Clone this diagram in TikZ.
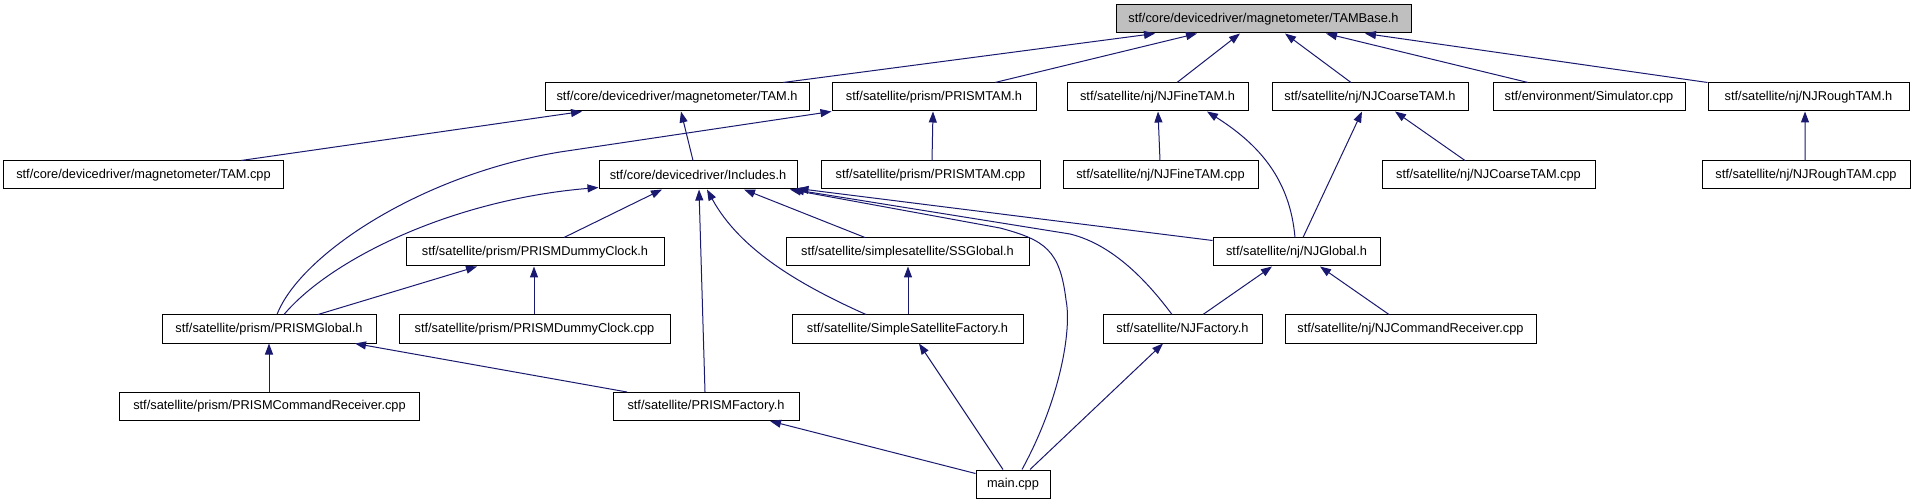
\documentclass[tikz,border=0pt]{standalone}
\usepackage{fontspec}
\setmainfont{Liberation Sans}
\usetikzlibrary{arrows.meta}
\definecolor{edgeblue}{HTML}{191970}
\definecolor{rootgray}{HTML}{BFBFBF}
\begin{document}
\begin{tikzpicture}[x=1bp,y=-1bp,
  box/.style={draw=black, line width=1bp, fill=white, minimum height=28bp, inner sep=0pt,
    font=\fontsize{12.8bp}{14bp}\selectfont, anchor=center},
  edge/.style={draw=edgeblue, line width=1bp, -{Triangle[length=11bp,width=8bp]}}]
\fill[white] (0,0) rectangle (1913,504);
\useasboundingbox (0,0) rectangle (1913,504);
% row 1
\node[box, minimum width=295bp, fill=rootgray] (tamb) at (1263.5,19) {stf/core/devicedriver/magnetometer/TAMBase.h};
% row 2
\node[box, minimum width=264bp] (tamh) at (677,97) {stf/core/devicedriver/magnetometer/TAM.h};
\node[box, minimum width=204bp] (prismtamh) at (934,97) {stf/satellite/prism/PRISMTAM.h};
\node[box, minimum width=181bp] (njfineh) at (1157.5,97) {stf/satellite/nj/NJFineTAM.h};
\node[box, minimum width=196bp] (njcoarseh) at (1370,97) {stf/satellite/nj/NJCoarseTAM.h};
\node[box, minimum width=192bp] (sim) at (1589,97) {stf/environment/Simulator.cpp};
\node[box, minimum width=201bp] (njroughh) at (1808.5,97) {stf/satellite/nj/NJRoughTAM.h};
% row 3
\node[box, minimum width=279bp] (tamcpp) at (143.5,175) {stf/core/devicedriver/magnetometer/TAM.cpp};
\node[box, minimum width=198bp] (inc) at (698,175) {stf/core/devicedriver/Includes.h};
\node[box, minimum width=219bp] (prismtamcpp) at (930.5,175) {stf/satellite/prism/PRISMTAM.cpp};
\node[box, minimum width=195bp] (njfinecpp) at (1160.5,175) {stf/satellite/nj/NJFineTAM.cpp};
\node[box, minimum width=213bp] (njcoarsecpp) at (1488.5,175) {stf/satellite/nj/NJCoarseTAM.cpp};
\node[box, minimum width=208bp] (njroughcpp) at (1806,175) {stf/satellite/nj/NJRoughTAM.cpp};
% row 4
\node[box, minimum width=258bp] (dummyh) at (535,252) {stf/satellite/prism/PRISMDummyClock.h};
\node[box, minimum width=243bp] (ssglobal) at (907.5,252) {stf/satellite/simplesatellite/SSGlobal.h};
\node[box, minimum width=167bp] (njglobal) at (1296.5,252) {stf/satellite/nj/NJGlobal.h};
% row 5
\node[box, minimum width=214bp] (prismglobal) at (269,329) {stf/satellite/prism/PRISMGlobal.h};
\node[box, minimum width=271bp] (dummycpp) at (534.5,329) {stf/satellite/prism/PRISMDummyClock.cpp};
\node[box, minimum width=231bp] (ssfactory) at (907.5,329) {stf/satellite/SimpleSatelliteFactory.h};
\node[box, minimum width=159bp] (njfactory) at (1182.5,329) {stf/satellite/NJFactory.h};
\node[box, minimum width=251bp] (njcmd) at (1410.5,329) {stf/satellite/nj/NJCommandReceiver.cpp};
% row 6
\node[box, minimum width=299bp] (prismcmd) at (269.5,406.5) {stf/satellite/prism/PRISMCommandReceiver.cpp};
\node[box, minimum width=186bp] (prismfactory) at (706,406.5) {stf/satellite/PRISMFactory.h};
% row 7
\node[box, minimum width=74bp] (main) at (1013,484) {main.cpp};

% edges to TAMBase.h
\draw[edge] ([xshift=106bp]tamh.north) -- ([xshift=-108.5bp]tamb.south);
\draw[edge] ([xshift=61bp]prismtamh.north) -- ([xshift=-66.5bp]tamb.south);
\draw[edge] ([xshift=19.5bp]njfineh.north) -- ([xshift=-23.5bp]tamb.south);
\draw[edge] ([xshift=-19bp]njcoarseh.north) -- ([xshift=21.5bp]tamb.south);
\draw[edge] ([xshift=-61bp]sim.north) -- ([xshift=62.5bp]tamb.south);
\draw[edge] (njroughh.north west) -- ([xshift=101.5bp]tamb.south);
% row 3 -> row 2
\draw[edge] ([xshift=97.5bp]tamcpp.north) -- ([xshift=-95bp]tamh.south);
\draw[edge] ([xshift=-5bp]inc.north) -- ([xshift=4bp]tamh.south);
\draw[edge] ([xshift=1.5bp]prismtamcpp.north) -- ([xshift=-1bp]prismtamh.south);
\draw[edge] ([xshift=-0.5bp]njfinecpp.north) -- ([xshift=0.5bp]njfineh.south);
\draw[edge] ([xshift=-23.5bp]njcoarsecpp.north) -- ([xshift=25bp]njcoarseh.south);
\draw[edge] ([xshift=-1bp]njroughcpp.north) -- ([xshift=-3.5bp]njroughh.south);
% NJGlobal.h
\draw[edge] ([xshift=6.5bp]njglobal.north) -- ([xshift=-8bp]njcoarseh.south);
\draw[edge] ([xshift=-1.5bp]njglobal.north) .. controls (1290,180) and (1260,145) .. ([xshift=49.5bp]njfineh.south);
\draw[edge] ([yshift=-3bp]njglobal.north west) -- ([yshift=1bp]inc.south east);
% PRISMGlobal.h
\draw[edge] ([xshift=8bp]prismglobal.north) .. controls (300,255) and (420,175) .. (560,152) -- (prismtamh.south west);
\draw[edge] ([xshift=15bp]prismglobal.north) .. controls (330,260) and (450,200) .. ([yshift=2bp]inc.south west);
\draw[edge] ([xshift=49bp]prismglobal.north) -- ([xshift=-58bp]dummyh.south);
% into Includes.h
\draw[edge] ([xshift=29bp]dummyh.north) -- ([xshift=-36bp]inc.south);
\draw[edge] ([xshift=-1bp]prismfactory.north) -- ([xshift=1bp]inc.south);
\draw[edge] ([xshift=-41.5bp]ssfactory.north) .. controls (800,285) and (740,250) .. ([xshift=9bp]inc.south);
\draw[edge] ([xshift=-42.5bp]ssglobal.north) -- ([xshift=46bp]inc.south);
\draw[edge] ([xshift=9bp]main.north) .. controls (1060,400) and (1072,330) .. (1066,300) .. controls (1060,250) and (1045,240) .. (1000,228) -- ([xshift=92bp]inc.south);
\draw[edge] ([xshift=-10.5bp]njfactory.north) .. controls (1150,285) and (1115,245) .. (1070,234) -- ([xshift=95bp]inc.south);
% row 5 -> row 4
\draw[edge] ([xshift=-0.5bp]dummycpp.north) -- ([xshift=-1bp]dummyh.south);
\draw[edge] ([xshift=0.5bp]ssfactory.north) -- ([xshift=0.5bp]ssglobal.south);
\draw[edge] ([xshift=20.5bp]njfactory.north) -- ([xshift=-24.5bp]njglobal.south);
\draw[edge] ([xshift=-21.5bp]njcmd.north) -- ([xshift=23.5bp]njglobal.south);
% row 6 -> row 5
\draw[edge] ([xshift=-0.5bp]prismcmd.north) -- (prismglobal.south);
\draw[edge] ([xshift=-79bp]prismfactory.north) -- ([xshift=86bp]prismglobal.south);
% main.cpp
\draw[edge] ([yshift=-4bp]main.north west) -- ([xshift=64bp]prismfactory.south);
\draw[edge] ([xshift=-10bp]main.north) -- ([xshift=11.5bp]ssfactory.south);
\draw[edge] ([xshift=17bp]main.north) -- ([xshift=-19.5bp]njfactory.south);
\end{tikzpicture}
\end{document}
